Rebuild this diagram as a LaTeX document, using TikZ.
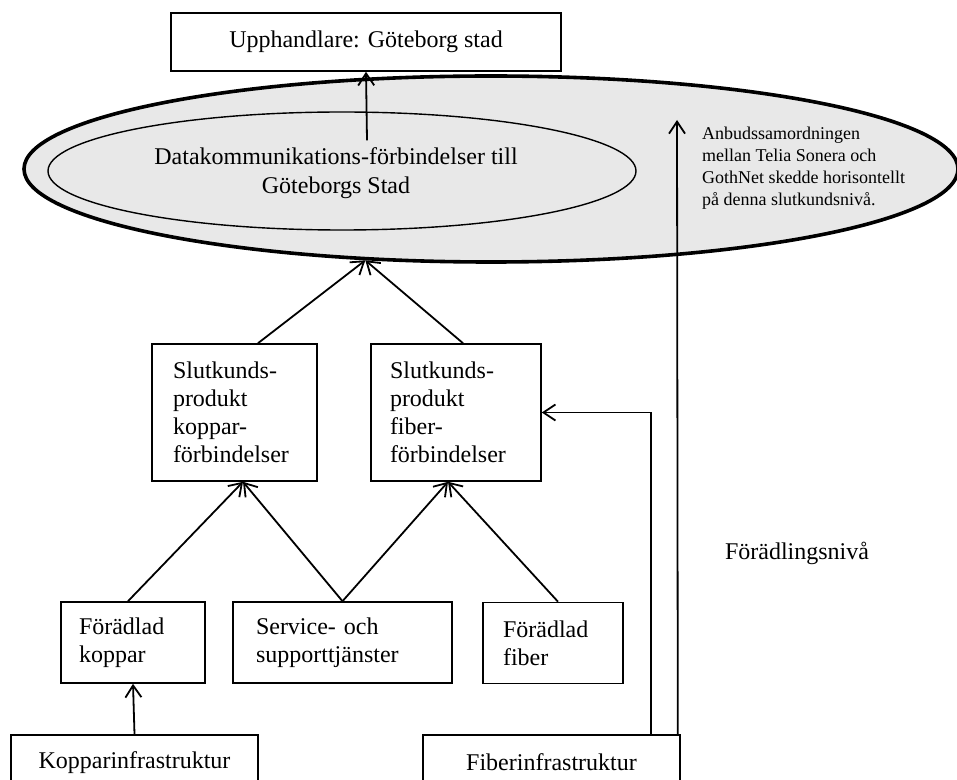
\documentclass[tikz,border=0pt]{standalone}
\usepackage{fontspec}
\setmainfont{Liberation Serif}
\usetikzlibrary{arrows.meta,shapes.geometric}

\tikzset{
  ruta/.style={draw, line width=0.8pt, inner ysep=0pt, align=left,
    font=\fontsize{12}{14}\selectfont},
  pil/.style={-{Straight Barb[length=6pt,width=8pt]}, line width=0.9pt},
  nivaellips/.style={ellipse, draw, fill=black!9, inner sep=0pt},
}

\begin{document}
\begin{tikzpicture}[x=0.5pt, y=-0.5pt]
    \useasboundingbox (0,0) rectangle (957,780);
    \clip (0,0) rectangle (957,780);

    % Slutkundsnivån
    \node[nivaellips, line width=1.8pt, minimum width=467pt, minimum height=93pt] (yttre) at (491,169) {};
    \node[nivaellips, line width=0.7pt, minimum width=294pt, minimum height=59pt] (inre) at (342,171) {};
    \node[align=center, font=\fontsize{12}{14.5}\selectfont] (dtext) at (336,173)
        {Datakommunikations-förbindelser till\\Göteborgs Stad};
    \node[ruta, align=center, minimum width=195pt, minimum height=29pt] (upph) at (366,42) {Upphandlare: Göteborg stad};
    \node[anchor=west, align=left, font=\fontsize{9}{11}\selectfont] (anbud) at (695,168)
        {Anbudssamordningen\\mellan Telia Sonera och\\GothNet skedde horisontellt\\på denna slutkundsnivå.};
    \coordinate (anbudpil) at (677,120);

    % Förädlingsnivån
    \node[ruta, text width=61.5pt, inner xsep=10.5pt, minimum height=68.5pt] (skop) at (234.5,412.5)
        {Slutkunds-\\produkt\\koppar-\\förbindelser};
    \node[ruta, text width=66pt, inner xsep=9.5pt, minimum height=68.5pt] (sfib) at (456,412.5)
        {Slutkunds-\\produkt\\fiber-\\förbindelser};
    \node[ruta, text width=54pt, inner xsep=9pt, minimum height=40.5pt] (fkop) at (133,642.5) {Förädlad\\koppar};
    \node[ruta, text width=86.5pt, inner xsep=11.5pt, minimum height=40.5pt] (serv) at (342.5,642.5) {Service- och\\supporttjänster};
    \node[ruta, text width=50pt, inner xsep=10pt, minimum height=40.5pt] (ffib) at (553,643) {Förädlad\\fiber};
    \node[font=\fontsize{12}{14}\selectfont] (niva) at (797,553) {Förädlingsnivå};

    % Infrastruktur
    \node[ruta, align=center, minimum width=123.5pt, minimum height=27.5pt] (kinfra) at (134.5,762.5) {Kopparinfrastruktur};
    \node[ruta, align=center, minimum width=128.5pt, minimum height=27.5pt] (finfra) at (551.5,762.5) {Fiberinfrastruktur};

    % Pilar
    \draw[pil] ([xshift=15.5pt]dtext.north) -- (upph.south);
    \draw[pil] ([xshift=11.75pt]skop.north) -- (yttre.216);
    \draw[pil] ([xshift=3.5pt]sfib.north) -- (yttre.216);
    \draw[pil] ([xshift=-2.5pt]fkop.north) -- ([xshift=4.25pt]skop.south);
    \draw[pil] (serv.north) -- ([xshift=4.25pt]skop.south);
    \draw[pil] (serv.north) -- ([xshift=-4pt]sfib.south);
    \draw[pil] ([xshift=2.5pt]ffib.north) -- ([xshift=-4pt]sfib.south);
    \draw[pil] (kinfra.north) -- (fkop.south);
    \draw[pil] ([xshift=49.75pt]finfra.north) |- (sfib.east);
    \draw[pil] ([xshift=-1.5pt]finfra.north east) -- (anbudpil);
\end{tikzpicture}
\end{document}
